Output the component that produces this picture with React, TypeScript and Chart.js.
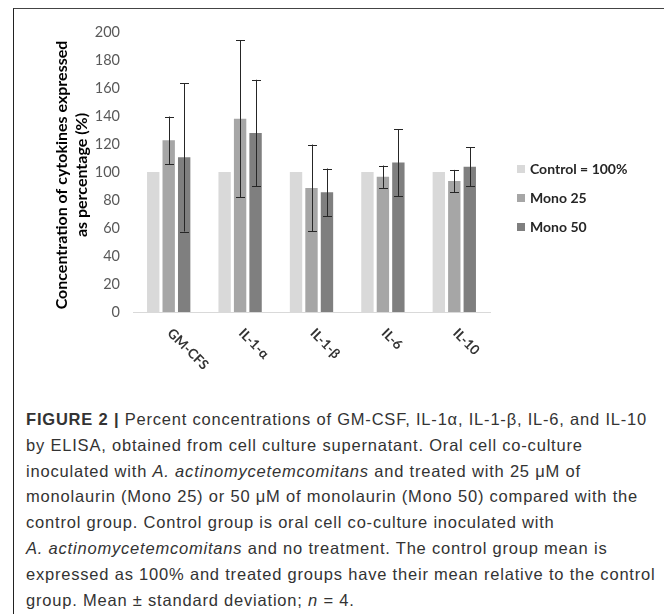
import React, { useEffect, useRef } from "react";
import { Chart, registerables } from "chart.js";

Chart.register(...registerables);

const categories = ["GM-CFS", "IL-1-α", "IL-1-β", "IL-6", "IL-10"];
const seriesNames = ["Control = 100%", "Mono 25", "Mono 50"];
const controlValues = [100, 100, 100, 100, 100];
const mono25Values = [122.6, 138, 88.6, 96.6, 93.5];
const mono50Values = [110.5, 127.9, 85.5, 106.7, 103.7];
const controlSD = [0, 0, 0, 0, 0];
const mono25SD = [17, 56, 31, 8, 8];
const mono50SD = [53, 38, 17, 24, 14];
const seriesColors = ["#d9d9d9", "#a6a6a6", "#7f7f7f"];
const yMin = 0;
const yMax = 200;
const yStep = 20;
const yTitleLines = ["Concentration of cytokines expressed", "as percentage (%)"];

const errorBarPlugin = {
  id: "errorBars",
  afterDatasetsDraw(chart: any) {
    const ctx = chart.ctx;
    const y = chart.scales.y;
    ctx.save();
    ctx.strokeStyle = "#262626";
    ctx.lineWidth = 1;
    chart.data.datasets.forEach((ds: any, d: number) => {
      const meta = chart.getDatasetMeta(d);
      ds.data.forEach((v: number, i: number) => {
        const sd = ds.sd[i];
        if (!sd) return;
        const bar = meta.data[i];
        const x = Math.round(bar.x) + 0.5;
        const top = y.getPixelForValue(v + sd);
        const bot = y.getPixelForValue(v - sd);
        ctx.beginPath();
        ctx.moveTo(x, top);
        ctx.lineTo(x, bot);
        ctx.moveTo(x - 4.5, Math.round(top) + 0.5);
        ctx.lineTo(x + 4.5, Math.round(top) + 0.5);
        ctx.moveTo(x - 4.5, Math.round(bot) + 0.5);
        ctx.lineTo(x + 4.5, Math.round(bot) + 0.5);
        ctx.stroke();
      });
    });
    ctx.restore();
  },
};

const decorPlugin = {
  id: "decor",
  afterDraw(chart: any) {
    const ctx = chart.ctx;
    const area = chart.chartArea;
    const xs = chart.scales.x;
    ctx.save();
    // x labels rotated
    ctx.font = "bold 13.5px Lato";
    ctx.fillStyle = "#333333";
    ctx.textAlign = "left";
    ctx.textBaseline = "middle";
    categories.forEach((c, i) => {
      const px = xs.getPixelForValue(i);
      ctx.save();
      ctx.translate(px + 1, area.bottom + 19);
      ctx.rotate(Math.PI / 4);
      ctx.fillText(c, 0, 0);
      ctx.restore();
    });
    // y title
    ctx.font = "bold 16px Lato";
    ctx.fillStyle = "#000000";
    ctx.textAlign = "center";
    const cy = (area.top + area.bottom) / 2 + 3;
    yTitleLines.forEach((line, k) => {
      ctx.save();
      ctx.translate(48 + k * 20, cy);
      ctx.rotate(-Math.PI / 2);
      ctx.fillText(line, 0, 0);
      ctx.restore();
    });
    // legend
    ctx.font = "bold 14px Lato";
    ctx.textAlign = "left";
    const lx = area.right + 27;
    const ly0 = (area.top + area.bottom) / 2 - 3;
    chart.data.datasets.forEach((ds: any, d: number) => {
      const yy = ly0 + d * 29;
      ctx.fillStyle = ds.backgroundColor;
      ctx.fillRect(lx, yy - 4, 8, 8);
      ctx.fillStyle = "#262626";
      ctx.fillText(ds.label, lx + 13, yy);
    });
    ctx.restore();
  },
};

function ChartBox() {
  const ref = useRef<HTMLCanvasElement | null>(null);
  useEffect(() => {
    if (!ref.current) return;
    const chart = new Chart(ref.current, {
      type: "bar",
      data: {
        labels: categories,
        datasets: [
          { label: seriesNames[0], data: controlValues, sd: controlSD, backgroundColor: seriesColors[0] } as any,
          { label: seriesNames[1], data: mono25Values, sd: mono25SD, backgroundColor: seriesColors[1] } as any,
          { label: seriesNames[2], data: mono50Values, sd: mono50SD, backgroundColor: seriesColors[2] } as any,
        ],
      },
      options: {
        animation: false,
        responsive: false,
        devicePixelRatio: 1,
        categoryPercentage: 0.65,
        barPercentage: 0.8,
        layout: { padding: { top: 23, right: 179, bottom: 0, left: 0 } },
        plugins: { legend: { display: false }, tooltip: { enabled: false } },
        scales: {
          x: {
            grid: { display: false, drawTicks: false },
            border: { display: true, color: "#d9d9d9", width: 1 },
            ticks: { display: false },
            afterFit: (s: any) => { s.height = 77; },
          },
          y: {
            min: yMin,
            max: yMax,
            grid: { display: false, drawTicks: false },
            border: { display: false },
            ticks: { stepSize: yStep, padding: 13, color: "#595959", font: { family: "Lato", size: 14.5 } },
            afterFit: (s: any) => { s.width = 119; },
          },
        },
      } as any,
      plugins: [errorBarPlugin, decorPlugin],
    });
    return () => chart.destroy();
  }, []);
  return <canvas ref={ref} width={655} height={380} style={{ display: "block", width: 655, height: 380 }} />;
}

const captionStyle: React.CSSProperties = {
  position: "absolute",
  left: 12,
  top: 398,
  fontFamily: "'Liberation Sans', Arial, sans-serif",
  fontSize: 16.5,
  letterSpacing: "0.8px",
  lineHeight: "25.8px",
  color: "#333333",
  whiteSpace: "nowrap",
};

export default function App() {
  useEffect(() => {
    document.documentElement.style.overflow = "hidden";
  }, []);
  return (
    <div
      style={{
        position: "relative",
        marginLeft: 5,
        width: 658,
        height: 620,
        boxSizing: "border-box",
        borderTop: "1px solid #444",
        borderLeft: "1px solid #222",
        borderRight: "2px solid #777",
        background: "#fff",
      }}
    >
      <ChartBox />
      <div style={captionStyle}>
        <div><b>FIGURE 2 |</b> Percent concentrations of GM-CSF, IL-1α, IL-1-β, IL-6, and IL-10</div>
        <div>by ELISA, obtained from cell culture supernatant. Oral cell co-culture</div>
        <div>inoculated with <i>A. actinomycetemcomitans</i> and treated with 25 μM of</div>
        <div>monolaurin (Mono 25) or 50 μM of monolaurin (Mono 50) compared with the</div>
        <div>control group. Control group is oral cell co-culture inoculated with</div>
        <div><i>A. actinomycetemcomitans</i> and no treatment. The control group mean is</div>
        <div>expressed as 100% and treated groups have their mean relative to the control</div>
        <div>group. Mean ± standard deviation; <i>n</i> = 4.</div>
      </div>
    </div>
  );
}
